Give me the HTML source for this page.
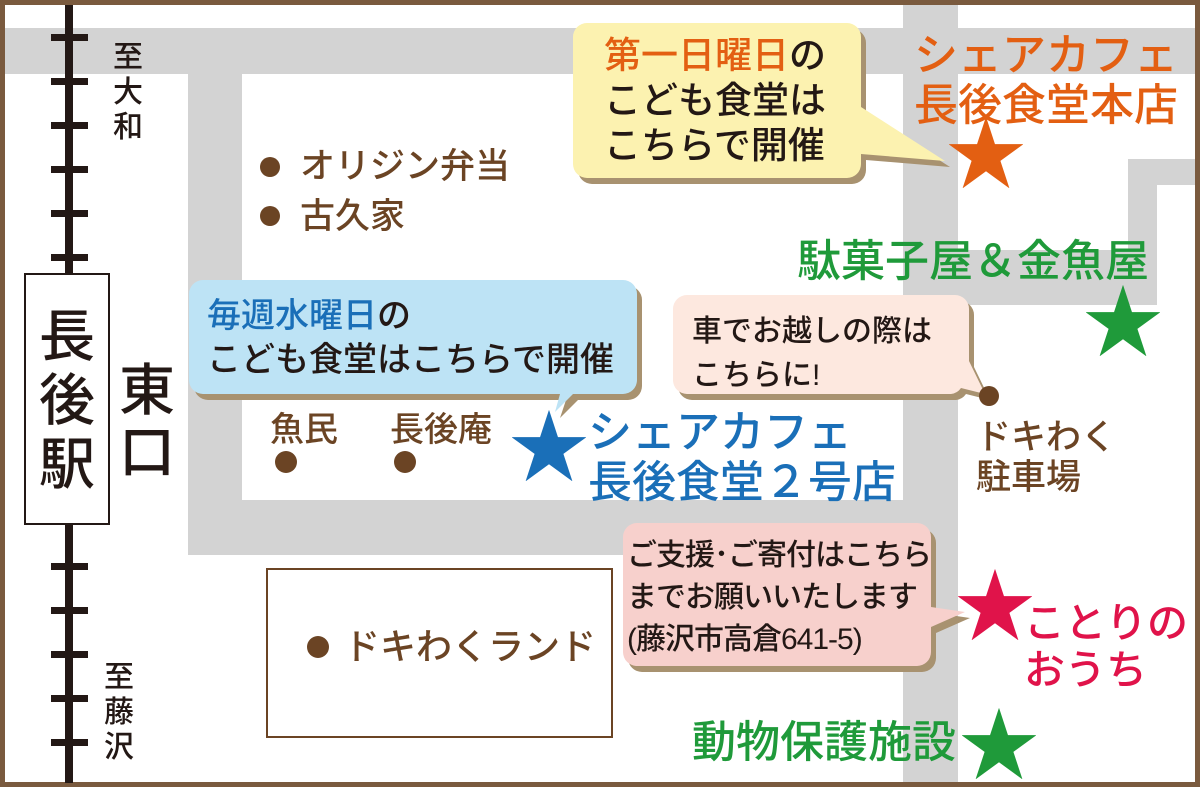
<!DOCTYPE html>
<html><head><meta charset="utf-8">
<style>
body{margin:0;width:1200px;height:787px;overflow:hidden;background:#fff;}
.t{position:absolute;font-family:"Liberation Sans","Noto Sans CJK JP",sans-serif;white-space:nowrap;line-height:1;font-weight:500;}
.b{color:#6b4424}
</style></head><body>
<svg width="1200" height="787" style="position:absolute;left:0;top:0">
<rect x="0" y="0" width="1200" height="787" fill="#fff"/>
<g fill="#d3d3d3">
<rect x="5" y="28" width="1190" height="46"/>
<rect x="188" y="74" width="54" height="481"/>
<rect x="188" y="500" width="716" height="55"/>
<rect x="903" y="5" width="55" height="778"/>
<rect x="1128" y="159" width="67" height="26"/>
<rect x="1128" y="159" width="29" height="146"/>
<rect x="958" y="250" width="199" height="55"/>
</g>
<rect x="2.5" y="2.5" width="1195" height="782" fill="none" stroke="#7a5a3e" stroke-width="5"/>
<rect x="65" y="5" width="8" height="778" fill="#231815"/>
<g fill="#231815">
<rect x="51" y="34" width="37" height="7"/><rect x="51" y="78" width="37" height="7"/><rect x="51" y="122" width="37" height="7"/><rect x="51" y="166" width="37" height="7"/><rect x="51" y="210" width="37" height="7"/><rect x="51" y="254" width="37" height="7"/>
<rect x="51" y="563" width="37" height="7"/><rect x="51" y="607" width="37" height="7"/><rect x="51" y="651" width="37" height="7"/><rect x="51" y="695" width="37" height="7"/><rect x="51" y="739" width="37" height="7"/>
</g>
<rect x="25" y="274" width="84" height="250" fill="#fff" stroke="#231815" stroke-width="2"/>
<rect x="267" y="569" width="345" height="168" fill="#fff" stroke="#6b4424" stroke-width="2"/>
<g>
<path d="M592 29 h260 a14 14 0 0 1 14 14 v70 L950 167 L866 160 v10 a14 14 0 0 1 -14 14 h-260 a14 14 0 0 1 -14 -14 v-127 a14 14 0 0 1 14 -14z" fill="#a89270"/>
<path d="M587 23 h260 a14 14 0 0 1 14 14 v70 L945 161 L861 154 v10 a14 14 0 0 1 -14 14 h-260 a14 14 0 0 1 -14 -14 v-127 a14 14 0 0 1 14 -14z" fill="#fcf2b0"/>
<path d="M208 286 h420 a14 14 0 0 1 14 14 v86 a14 14 0 0 1 -14 14 h-50 L560 418 L566 400 h-358 a14 14 0 0 1 -14 -14 v-86 a14 14 0 0 1 14 -14z" fill="#a89270"/>
<path d="M203 280 h420 a14 14 0 0 1 14 14 v86 a14 14 0 0 1 -14 14 h-50 L555 412 L560 394 h-357 a14 14 0 0 1 -14 -14 v-86 a14 14 0 0 1 14 -14z" fill="#bde3f5"/>
<path d="M692 301 h268 a14 14 0 0 1 14 14 v52 L990 400 L966 394 a14 14 0 0 1 -10 6 h-264 a14 14 0 0 1 -14 -14 v-71 a14 14 0 0 1 14 -14z" fill="#a89270"/>
<path d="M687 295 h268 a14 14 0 0 1 14 14 v52 L985 394 L961 388 a14 14 0 0 1 -10 6 h-264 a14 14 0 0 1 -14 -14 v-71 a14 14 0 0 1 14 -14z" fill="#fde8df"/>
<path d="M642 529 h280 a14 14 0 0 1 14 14 v70 L970 618 L936 633 v25 a14 14 0 0 1 -14 14 h-280 a14 14 0 0 1 -14 -14 v-115 a14 14 0 0 1 14 -14z" fill="#a89270"/>
<path d="M637 523 h280 a14 14 0 0 1 14 14 v70 L965 612 L931 627 v25 a14 14 0 0 1 -14 14 h-280 a14 14 0 0 1 -14 -14 v-115 a14 14 0 0 1 14 -14z" fill="#f7d0cc"/>
</g>
<g fill="#6b4424">
<circle cx="270" cy="167" r="10"/><circle cx="270" cy="216" r="10"/>
<circle cx="286" cy="462" r="11"/><circle cx="405" cy="462" r="11"/>
<circle cx="318" cy="647" r="11"/><circle cx="989" cy="396" r="10"/>
</g>
</svg>
<div class="t" style="left:946px;top:116px;font-size:80px;color:#e35f12">★</div>
<div class="t" style="left:1083px;top:284px;font-size:80px;color:#1f9a3a">★</div>
<div class="t" style="left:509px;top:409px;font-size:80px;color:#1a6fb8">★</div>
<div class="t" style="left:955px;top:568px;font-size:80px;color:#e0134a">★</div>
<div class="t" style="left:959px;top:707px;font-size:80px;color:#1f9a3a">★</div>

<div class="t" style="left:113px;top:40px;font-size:30px;line-height:35px;color:#231815">至<br>大<br>和</div>
<div class="t" style="left:104px;top:660px;font-size:30px;line-height:35px;color:#231815">至<br>藤<br>沢</div>
<div class="t" style="left:39px;top:305px;font-size:56px;line-height:64px;color:#231815">長<br>後<br>駅</div>
<div class="t" style="left:119px;top:360px;font-size:56px;line-height:62px;color:#231815">東<br>口</div>

<div class="t b" style="left:300px;top:149px;font-size:35px">オリジン弁当</div>
<div class="t b" style="left:300px;top:199px;font-size:35px">古久家</div>
<div class="t b" style="left:270px;top:413px;font-size:34px">魚民</div>
<div class="t b" style="left:390px;top:413px;font-size:34px">長後庵</div>
<div class="t b" style="left:344px;top:629px;font-size:36px">ドキわくランド</div>
<div class="t b" style="left:976px;top:418px;font-size:35px;line-height:40px">ドキわく<br>駐車場</div>

<div class="t" style="left:604px;top:33px;font-size:37px;line-height:45px;color:#231815"><span style="color:#e35f12">第一日曜日</span>の<br>こども食堂は<br>こちらで開催</div>
<div class="t" style="left:207px;top:294px;font-size:34px;line-height:44px;color:#231815"><span style="color:#1a6fb8">毎週水曜日</span>の<br>こども食堂はこちらで開催</div>
<div class="t" style="left:692px;top:310px;font-size:30px;line-height:44px;color:#231815">車でお越しの際は<br>こちらに!</div>
<div class="t" style="left:627px;top:535px;font-size:30px;line-height:42px;color:#231815;letter-spacing:-1px">ご支援･ご寄付はこちら<br>までお願いいたします<br>(藤沢市高倉641-5)</div>

<div class="t" style="left:914px;top:31px;font-size:44px;line-height:50px;color:#e35f12">シェアカフェ<br>長後食堂本店</div>
<div class="t" style="left:797px;top:240px;font-size:44px;color:#1f9a3a">駄菓子屋＆金魚屋</div>
<div class="t" style="left:588px;top:408px;font-size:44px;line-height:50px;color:#1a6fb8">シェアカフェ<br>長後食堂２号店</div>
<div class="t" style="left:1024px;top:600px;font-size:41px;line-height:47px;color:#e0134a">ことりの<br>おうち</div>
<div class="t" style="left:692px;top:721px;font-size:44px;color:#1f9a3a">動物保護施設</div>
</body></html>
